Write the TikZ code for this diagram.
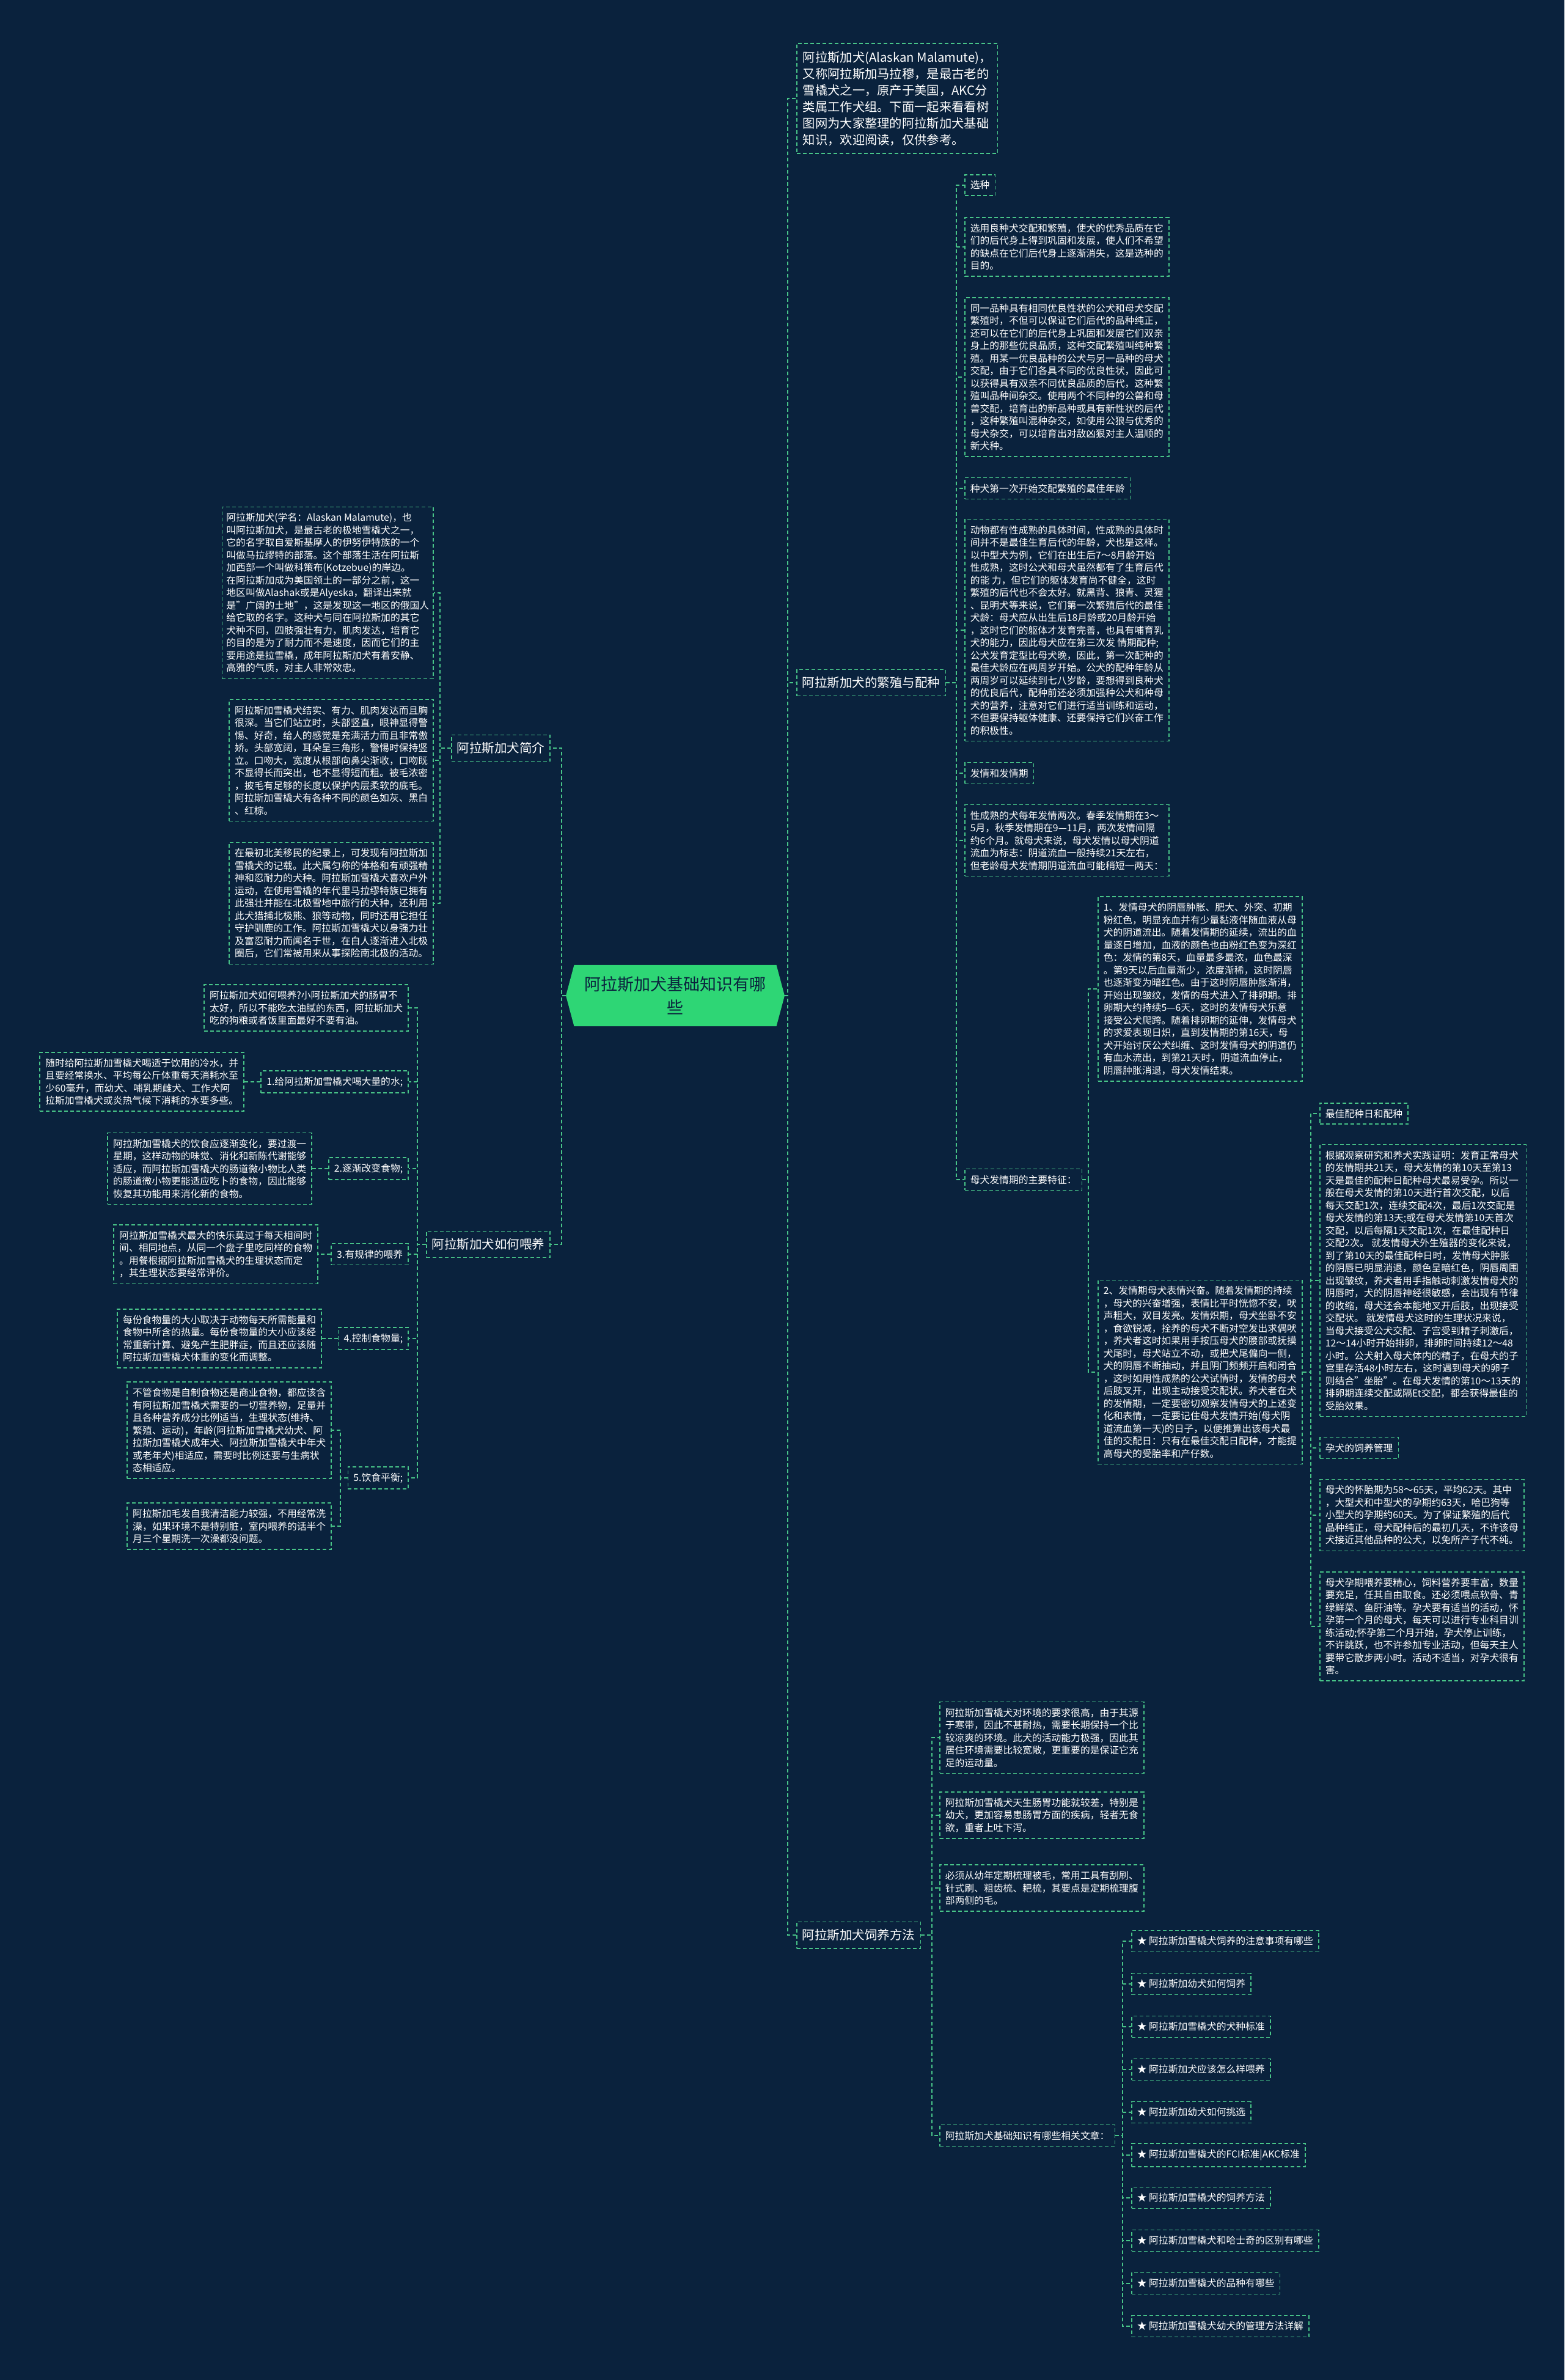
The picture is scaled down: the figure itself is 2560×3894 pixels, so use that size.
\documentclass[tikz,border=0pt]{standalone}
\usepackage{fontspec}
\setmainfont{Noto Sans CJK SC}
\usetikzlibrary{shapes.symbols}
\definecolor{bgc}{RGB}{10,34,61}
\definecolor{linc}{RGB}{72,196,136}
\definecolor{rootc}{RGB}{46,214,117}
\newcommand\bodyfont{\fontsize{15.8}{20.5}\selectfont}

\begin{document}
\begin{tikzpicture}[x=1pt,y=-1pt]
    \tikzstyle{link}=[draw=linc,line width=1.6pt,dash pattern=on 6pt off 4pt]
    \tikzstyle{box}=[draw=linc,line width=1.6pt,dash pattern=on 6pt off 4pt,text=white,align=left,font=\bodyfont,inner xsep=9pt,inner ysep=10pt]
    \tikzstyle{rbox}=[box,anchor=west]
    \tikzstyle{lbox}=[box,anchor=east]
    \tikzstyle{branch}=[box,font=\fontsize{20.5}{27}\selectfont,inner ysep=12pt]
    \tikzstyle{root}=[signal,signal to=east and west,signal pointer angle=150,fill=rootc,text=bgc,align=center,font=\fontsize{27}{38}\selectfont,inner xsep=17pt,inner ysep=19pt]
    \fill[bgc] (0,0) rectangle (2560,3894);
    \useasboundingbox (0,0) rectangle (2560,3894);

    \node[root] (root) at (1105,1629) {阿拉斯加犬基础知识有哪\\些};

    \node[rbox,font=\fontsize{20.3}{27}\selectfont,inner xsep=10pt,inner ysep=13pt] (intro) at (1303,161) {阿拉斯加犬(Alaskan Malamute)，\\又称阿拉斯加马拉穆，是最古老的\\雪橇犬之一，原产于美国，AKC分\\类属工作犬组。下面一起来看看树\\图网为大家整理的阿拉斯加犬基础\\知识，欢迎阅读，仅供参考。};
    \node[branch,anchor=west] (breed) at (1303,1117) {阿拉斯加犬的繁殖与配种};
    \node[branch,anchor=west] (feedm) at (1303,3166) {阿拉斯加犬饲养方法};

    \node[rbox] (sel) at (1578,303) {选种};
    \node[rbox] (sel1) at (1578,404) {选用良种犬交配和繁殖，使犬的优秀品质在它\\们的后代身上得到巩固和发展，使人们不希望\\的缺点在它们后代身上逐渐消失，这是选种的\\目的。};
    \node[rbox] (sel2) at (1578,617) {同一品种具有相同优良性状的公犬和母犬交配\\繁殖时，不但可以保证它们后代的品种纯正，\\还可以在它们的后代身上巩固和发展它们双亲\\身上的那些优良品质，这种交配繁殖叫纯种繁\\殖。用某一优良品种的公犬与另一品种的母犬\\交配，由于它们各具不同的优良性状，因此可\\以获得具有双亲不同优良品质的后代，这种繁\\殖叫品种间杂交。使用两个不同种的公兽和母\\兽交配，培育出的新品种或具有新性状的后代\\，这种繁殖叫混种杂交，如使用公狼与优秀的\\母犬杂交，可以培育出对敌凶狠对主人温顺的\\新犬种。};
    \node[rbox] (age) at (1578,799) {种犬第一次开始交配繁殖的最佳年龄};
    \node[rbox] (age1) at (1578,1031) {动物都有性成熟的具体时间，性成熟的具体时\\间并不是最佳生育后代的年龄，犬也是这样。\\以中型犬为例，它们在出生后7～8月龄开始\\性成熟，这时公犬和母犬虽然都有了生育后代\\的能 力，但它们的躯体发育尚不健全，这时\\繁殖的后代也不会太好。就黑背、狼青、灵猩\\、昆明犬等来说，它们第一次繁殖后代的最佳\\犬龄：母犬应从出生后18月龄或20月龄开始\\，这时它们的躯体才发育完善，也具有哺育乳\\犬的能力，因此母犬应在第三次发 情期配种;\\公犬发育定型比母犬晚，因此，第一次配种的\\最佳犬龄应在两周岁开始。公犬的配种年龄从\\两周岁可以延续到七八岁龄，要想得到良种犬\\的优良后代，配种前还必须加强种公犬和种母\\犬的营养，注意对它们进行适当训练和运动，\\不但要保持躯体健康、还要保持它们兴奋工作\\的积极性。};
    \node[rbox] (heat) at (1578,1265) {发情和发情期};
    \node[rbox] (heat1) at (1578,1375) {性成熟的犬每年发情两次。春季发情期在3～\\5月，秋季发情期在9—11月，两次发情间隔\\约6个月。就母犬来说，母犬发情以母犬阴道\\流血为标志：阴道流血一般持续21天左右，\\但老龄母犬发情期阴道流血可能稍短一两天：};
    \node[rbox] (feat) at (1578,1930) {母犬发情期的主要特征：};

    \node[rbox] (f1) at (1796,1618) {1、发情母犬的阴唇肿胀、肥大、外突、初期\\粉红色，明显充血并有少量黏液伴随血液从母\\犬的阴道流出。随着发情期的延续，流出的血\\量逐日增加，血液的颜色也由粉红色变为深红\\色：发情的第8天，血量最多最浓，血色最深\\。第9天以后血量渐少，浓度渐稀，这时阴唇\\也逐渐变为暗红色。由于这时阴唇肿胀渐消，\\开始出现皱纹，发情的母犬进入了排卵期。排\\卵期大约持续5—6天，这时的发情母犬乐意\\接受公犬爬跨。随着排卵期的延伸，发情母犬\\的求爱表现日炽，直到发情期的第16天，母\\犬开始讨厌公犬纠缠、这时发情母犬的阴道仍\\有血水流出，到第21天时，阴道流血停止，\\阴唇肿胀消退，母犬发情结束。};
    \node[rbox] (f2) at (1796,2245) {2、发情期母犬表情兴奋。随着发情期的持续\\，母犬的兴奋增强，表情比平时恍惚不安，吠\\声粗大，双目发亮。发情炽期，母犬坐卧不安\\，食欲锐减，拴养的母犬不断对空发出求偶吠\\，养犬者这时如果用手按压母犬的腰部或抚摸\\犬尾时，母犬站立不动，或把犬尾偏向一侧，\\犬的阴唇不断抽动，并且阴门频频开启和闭合\\，这时如用性成熟的公犬试情时，发情的母犬\\后肢叉开，出现主动接受交配状。养犬者在犬\\的发情期，一定要密切观察发情母犬的上述变\\化和表情，一定要记住母犬发情开始(母犬阴\\道流血第一天)的日子，以便推算出该母犬最\\佳的交配日：只有在最佳交配日配种，才能提\\高母犬的受胎率和产仔数。};

    \node[rbox] (best) at (2159,1822) {最佳配种日和配种};
    \node[rbox] (best1) at (2159,2095) {根据观察研究和养犬实践证明：发育正常母犬\\的发情期共21天，母犬发情的第10天至第13\\天是最佳的配种日配种母犬最易受孕。所以一\\般在母犬发情的第10天进行首次交配，以后\\每天交配1次，连续交配4次，最后1次交配是\\母犬发情的第13天;或在母犬发情第10天首次\\交配，以后每隔1天交配1次，在最佳配种日\\交配2次。 就发情母犬外生殖器的变化来说，\\到了第10天的最佳配种日时，发情母犬肿胀\\的阴唇已明显消退，颜色呈暗红色，阴唇周围\\出现皱纹，养犬者用手指触动刺激发情母犬的\\阴唇时，犬的阴唇神经很敏感，会出现有节律\\的收缩，母犬还会本能地叉开后肢，出现接受\\交配状。 就发情母犬这时的生理状况来说，\\当母犬接受公犬交配、子宫受到精子刺激后，\\12～14小时开始排卵，排卵时间持续12～48\\小时。公犬射入母犬体内的精子，在母犬的子\\宫里存活48小时左右，这时遇到母犬的卵子\\则结合"坐胎"。在母犬发情的第10～13天的\\排卵期连续交配或隔Et交配，都会获得最佳的\\受胎效果。};
    \node[rbox] (preg) at (2159,2369) {孕犬的饲养管理};
    \node[rbox] (preg1) at (2159,2479) {母犬的怀胎期为58～65天，平均62天。其中\\，大型犬和中型犬的孕期约63天，哈巴狗等\\小型犬的孕期约60天。为了保证繁殖的后代\\品种纯正，母犬配种后的最初几天，不许该母\\犬接近其他品种的公犬，以免所产子代不纯。};
    \node[rbox] (preg2) at (2159,2661) {母犬孕期喂养要精心，饲料营养要丰富，数量\\要充足，任其自由取食。还必须喂点软骨、青\\绿鲜菜、鱼肝油等。孕犬要有适当的活动，怀\\孕第一个月的母犬，每天可以进行专业科目训\\练活动;怀孕第二个月开始，孕犬停止训练，\\不许跳跃，也不许参加专业活动，但每天主人\\要带它散步两小时。活动不适当，对孕犬很有\\害。};

    \node[rbox] (env) at (1537,2843) {阿拉斯加雪橇犬对环境的要求很高，由于其源\\于寒带，因此不甚耐热，需要长期保持一个比\\较凉爽的环境。此犬的活动能力极强，因此其\\居住环境需要比较宽敞，更重要的是保证它充\\足的运动量。};
    \node[rbox] (gut) at (1537,2970) {阿拉斯加雪橇犬天生肠胃功能就较差，特别是\\幼犬，更加容易患肠胃方面的疾病，轻者无食\\欲，重者上吐下泻。};
    \node[rbox] (comb) at (1537,3089) {必须从幼年定期梳理被毛，常用工具有刮刷、\\针式刷、粗齿梳、耙梳，其要点是定期梳理腹\\部两侧的毛。};
    \node[rbox] (rel) at (1537,3494) {阿拉斯加犬基础知识有哪些相关文章：};
    \foreach \t [count=\i] in {阿拉斯加雪橇犬饲养的注意事项有哪些,阿拉斯加幼犬如何饲养,阿拉斯加雪橇犬的犬种标准,阿拉斯加犬应该怎么样喂养,阿拉斯加幼犬如何挑选,阿拉斯加雪橇犬的FCI标准|AKC标准,阿拉斯加雪橇犬的饲养方法,阿拉斯加雪橇犬和哈士奇的区别有哪些,阿拉斯加雪橇犬的品种有哪些,阿拉斯加雪橇犬幼犬的管理方法详解}
      \node[rbox] (a\i) at (1851,{3106+70*\i}) {★ \t};

    \node[branch,anchor=east] (about) at (901,1224) {阿拉斯加犬简介};
    \node[lbox,inner xsep=7pt] (ab1) at (710,970) {阿拉斯加犬(学名：Alaskan Malamute)，也\\叫阿拉斯加犬，是最古老的极地雪橇犬之一，\\它的名字取自爱斯基摩人的伊努伊特族的一个\\叫做马拉缪特的部落。这个部落生活在阿拉斯\\加西部一个叫做科策布(Kotzebue)的岸边。\\在阿拉斯加成为美国领土的一部分之前，这一\\地区叫做Alashak或是Alyeska，翻译出来就\\是"广阔的土地"，这是发现这一地区的俄国人\\给它取的名字。这种犬与同在阿拉斯加的其它\\犬种不同，四肢强壮有力，肌肉发达，培育它\\的目的是为了耐力而不是速度，因而它们的主\\要用途是拉雪橇，成年阿拉斯加犬有着安静、\\高雅的气质，对主人非常效忠。};
    \node[lbox] (ab2) at (710,1244) {阿拉斯加雪橇犬结实、有力、肌肉发达而且胸\\很深。当它们站立时，头部竖直，眼神显得警\\惕、好奇，给人的感觉是充满活力而且非常傲\\娇。头部宽阔，耳朵呈三角形，警惕时保持竖\\立。口吻大，宽度从根部向鼻尖渐收，口吻既\\不显得长而突出，也不显得短而粗。被毛浓密\\，披毛有足够的长度以保护内层柔软的底毛。\\阿拉斯加雪橇犬有各种不同的颜色如灰、黑白\\、红棕。};
    \node[lbox] (ab3) at (710,1478) {在最初北美移民的纪录上，可发现有阿拉斯加\\雪橇犬的记载。此犬属匀称的体格和有顽强精\\神和忍耐力的犬种。阿拉斯加雪橇犬喜欢户外\\运动，在使用雪橇的年代里马拉缪特族已拥有\\此强壮并能在北极雪地中旅行的犬种，还利用\\此犬猎捕北极熊、狼等动物，同时还用它担任\\守护驯鹿的工作。阿拉斯加雪橇犬以身强力壮\\及富忍耐力而闻名于世，在白人逐渐进入北极\\圈后，它们常被用来从事探险南北极的活动。};

    \node[branch,anchor=east] (feed) at (901,2036) {阿拉斯加犬如何喂养};
    \node[lbox] (q0) at (669,1649) {阿拉斯加犬如何喂养?小阿拉斯加犬的肠胃不\\太好，所以不能吃太油腻的东西，阿拉斯加犬\\吃的狗粮或者饭里面最好不要有油。};
    \node[lbox] (w1) at (669,1770) {1.给阿拉斯加雪橇犬喝大量的水;};
    \node[lbox] (w1a) at (400,1770) {随时给阿拉斯加雪橇犬喝适于饮用的冷水，并\\且要经常换水、平均每公斤体重每天消耗水至\\少60毫升，而幼犬、哺乳期雌犬、工作犬阿\\拉斯加雪橇犬或炎热气候下消耗的水要多些。};
    \node[lbox] (w2) at (669,1912) {2.逐渐改变食物;};
    \node[lbox] (w2a) at (511,1912) {阿拉斯加雪橇犬的饮食应逐渐变化，要过渡一\\星期，这样动物的味觉、消化和新陈代谢能够\\适应，而阿拉斯加雪橇犬的肠道微小物比人类\\的肠道微小物更能适应吃卜的食物，因此能够\\恢复其功能用来消化新的食物。};
    \node[lbox] (w3) at (669,2052) {3.有规律的喂养};
    \node[lbox] (w3a) at (521,2052) {阿拉斯加雪橇犬最大的快乐莫过于每天相间时\\间、相同地点，从同一个盘子里吃同样的食物\\。用餐根据阿拉斯加雪橇犬的生理状态而定\\，其生理状态要经常评价。};
    \node[lbox] (w4) at (669,2190) {4.控制食物量;};
    \node[lbox] (w4a) at (527,2190) {每份食物量的大小取决于动物每天所需能量和\\食物中所含的热量。每份食物量的大小应该经\\常重新计算、避免产生肥胖症，而且还应该随\\阿拉斯加雪橇犬体重的变化而调整。};
    \node[lbox] (w5) at (669,2418) {5.饮食平衡;};
    \node[lbox] (w5a) at (543,2340) {不管食物是自制食物还是商业食物，都应该含\\有阿拉斯加雪橇犬需要的一切营养物，足量并\\且各种营养成分比例适当，生理状态(维持、\\繁殖、运动)，年龄(阿拉斯加雪橇犬幼犬、阿\\拉斯加雪橇犬成年犬、阿拉斯加雪橇犬中年犬\\或老年犬)相适应，需要时比例还要与生病状\\态相适应。};
    \node[lbox] (w5b) at (543,2497) {阿拉斯加毛发自我清洁能力较强，不用经常洗\\澡，如果环境不是特别脏，室内喂养的话半个\\月三个星期洗一次澡都没问题。};

    \foreach \nd in {intro,breed,feedm} \draw[link] (root.east) -| ([xshift=-14pt]\nd.west) -- (\nd.west);
    \foreach \nd in {sel,sel1,sel2,age,age1,heat,heat1,feat} \draw[link] (breed.east) -| ([xshift=-13pt]\nd.west) -- (\nd.west);
    \foreach \nd in {f1,f2} \draw[link] (feat.east) -| ([xshift=-15pt]\nd.west) -- (\nd.west);
    \foreach \nd in {best,best1,preg,preg1,preg2} \draw[link] (f2.east) -| ([xshift=-14pt]\nd.west) -- (\nd.west);
    \foreach \nd in {env,gut,comb,rel} \draw[link] (feedm.east) -| ([xshift=-12pt]\nd.west) -- (\nd.west);
    \foreach \i in {1,...,10} \draw[link] (rel.east) -| ([xshift=-14pt]a\i.west) -- (a\i.west);
    \foreach \nd in {about,feed} \draw[link] (root.west) -| ([xshift=18pt]\nd.east) -- (\nd.east);
    \foreach \nd in {ab1,ab2,ab3} \draw[link] (about.west) -| ([xshift=10pt]\nd.east) -- (\nd.east);
    \foreach \nd in {q0,w1,w2,w3,w4,w5} \draw[link] (feed.west) -| ([xshift=14pt]\nd.east) -- (\nd.east);
    \foreach \nd in {1,2,3,4} \draw[link] (w\nd.west) -- (w\nd a.east);
    \foreach \nd in {w5a,w5b} \draw[link] (w5.west) -| ([xshift=14pt]\nd.east) -- (\nd.east);
\end{tikzpicture}
\end{document}
